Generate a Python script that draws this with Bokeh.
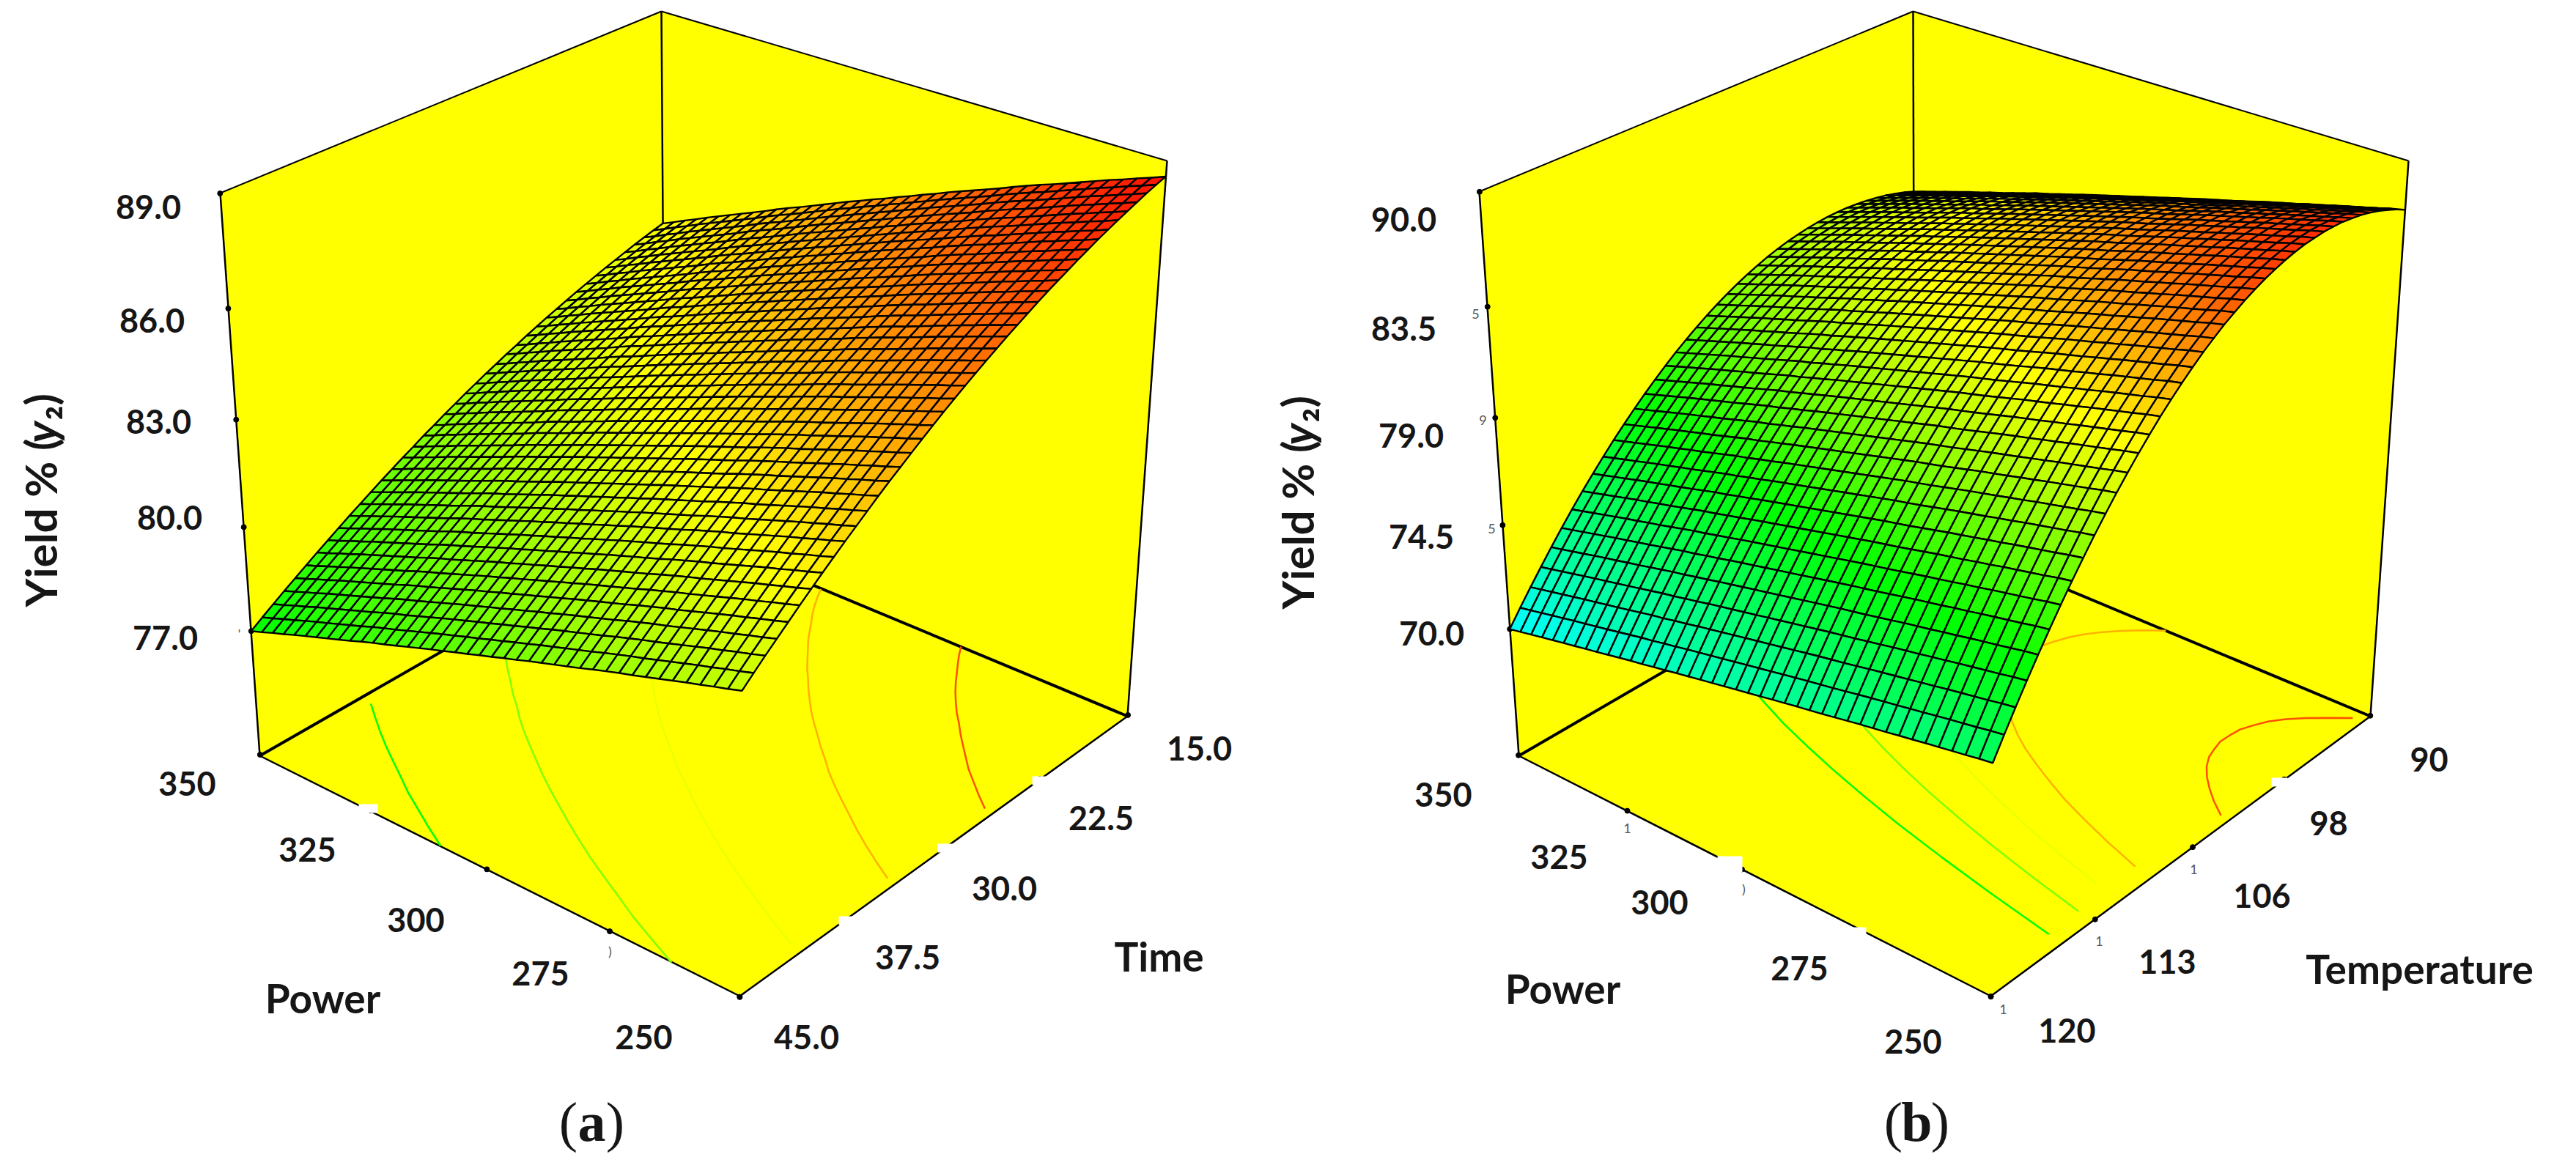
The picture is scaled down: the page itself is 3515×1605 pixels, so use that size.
import numpy as np
from bokeh.core.properties import value
from bokeh.embed import file_html
from bokeh.models import ColumnDataSource, LinearColorMapper
from bokeh.plotting import figure
from bokeh.resources import INLINE

# --- values ---
# each surface is kept as three edge profiles in yield units: the two edges running
# along time/temperature and the near edge running along power. inner mesh cells are
# combined from those, the mesh itself has too many cells to read one by one.
a_yield_power350 = [77.00, 77.22, 77.43, 77.64, 77.84, 78.04, 78.24, 78.43, 78.62, 78.81, 78.99, 79.17, 79.35, 79.52,
                    79.69, 79.85, 80.02, 80.17, 80.33, 80.48, 80.63, 80.77, 80.91, 81.04, 81.18, 81.30, 81.43, 81.55,
                    81.67, 81.78, 81.89, 82.00, 82.10, 82.20, 82.30, 82.39, 82.48, 82.57, 82.65, 82.73, 82.80]
a_yield_power250 = [81.60, 81.87, 82.13, 82.38, 82.63, 82.88, 83.12, 83.36, 83.59, 83.82, 84.04, 84.26, 84.48, 84.69,
                    84.89, 85.09, 85.29, 85.48, 85.67, 85.85, 86.03, 86.20, 86.37, 86.53, 86.69, 86.84, 86.99, 87.14,
                    87.28, 87.41, 87.54, 87.67, 87.79, 87.91, 88.02, 88.13, 88.23, 88.33, 88.43, 88.52, 88.60]
a_yield_time45 = [77.00, 77.12, 77.25, 77.37, 77.50, 77.62, 77.74, 77.86, 77.98, 78.10, 78.23, 78.35, 78.46, 78.58,
                  78.70, 78.82, 78.94, 79.05, 79.17, 79.28, 79.40, 79.51, 79.63, 79.74, 79.86, 79.97, 80.08, 80.19,
                  80.30, 80.42, 80.53, 80.64, 80.74, 80.85, 80.96, 81.07, 81.18, 81.28, 81.39, 81.49, 81.60]

b_yield_power350 = [70.00, 70.74, 71.45, 72.14, 72.81, 73.46, 74.08, 74.68, 75.25, 75.80, 76.33, 76.83, 77.31, 77.77,
                    78.20, 78.61, 79.00, 79.36, 79.70, 80.02, 80.31, 80.58, 80.83, 81.05, 81.25, 81.43, 81.58, 81.71,
                    81.81, 81.89, 81.95, 81.99, 82.00, 81.99, 81.95, 81.89, 81.81, 81.71, 81.58, 81.43, 81.25]
b_yield_power250 = [74.40, 75.31, 76.19, 77.04, 77.86, 78.65, 79.41, 80.14, 80.84, 81.52, 82.16, 82.78, 83.36, 83.92,
                    84.44, 84.95, 85.41, 85.85, 86.26, 86.65, 86.99, 87.32, 87.60, 87.87, 88.10, 88.31, 88.48, 88.63,
                    88.75, 88.84, 88.89, 88.93, 88.92, 88.90, 88.83, 88.75, 88.63, 88.48, 88.30, 88.10, 87.86]
b_yield_temp120 = [70.00, 70.12, 70.24, 70.36, 70.48, 70.60, 70.71, 70.83, 70.94, 71.06, 71.18, 71.30, 71.40, 71.52,
                   71.63, 71.75, 71.86, 71.97, 72.08, 72.19, 72.30, 72.41, 72.52, 72.63, 72.74, 72.85, 72.95, 73.05,
                   73.16, 73.27, 73.38, 73.48, 73.58, 73.69, 73.79, 73.90, 74.00, 74.10, 74.20, 74.31, 74.40]

a_contour_levels = [78.95, 81.05, 83.0, 85.0, 86.75]
b_contour_levels = [80.0, 82.0, 83.6, 85.2, 88.0]

power_ticks = [350, 325, 300, 275, 250]
time_ticks = [45.0, 37.5, 30.0, 22.5, 15.0]
temp_ticks = [120, 112.5, 105, 97.5, 90]
a_yield_ticks = [77, 80, 83, 86, 89]
b_yield_ticks = [70, 75, 80, 85, 90]

power_labels = ["350", "325", "300", "275", "250"]
time_labels = ["45.0", "37.5", "30.0", "22.5", "15.0"]
temp_labels = ["120", "113", "106", "98", "90"]
a_yield_labels = ["77.0", "80.0", "83.0", "86.0", "89.0"]
b_yield_labels = ["70.0", "74.5", "79.0", "83.5", "90.0"]

# --- layout, in pixels of the page ---
a_box = {(0, 0, 0): (362, 1039), (1, 0, 0): (1017, 1367), (1, 1, 0): (1546, 985), (0, 1, 0): (915, 722),
         (0, 0, 1): (308, 271), (1, 1, 1): (1600, 227), (0, 1, 1): (910, 23)}
b_box = {(0, 0, 0): (2080, 1039), (1, 0, 0): (2724, 1367), (1, 1, 0): (3242, 985), (0, 1, 0): (2620, 725),
         (0, 0, 1): (2026, 269), (1, 1, 1): (3294, 227), (0, 1, 1): (2618, 23)}

a_yield_xy = [(233, 878), (239, 714), (224, 583), (215, 445), (210, 290)]
a_power_xy = [(263, 1077), (427, 1167), (575, 1263), (745, 1336), (886, 1423)]
a_time_xy = [(1108, 1423), (1246, 1314), (1378, 1220), (1510, 1124), (1644, 1029)]
b_yield_xy = [(1961, 872), (1947, 740), (1933, 602), (1923, 456), (1923, 307)]
b_power_xy = [(1977, 1092), (2135, 1177), (2272, 1239), (2463, 1329), (2618, 1429)]
b_temp_xy = [(2828, 1414), (2965, 1320), (3094, 1230), (3185, 1131), (3322, 1044)]

contour_colors = ["#00ff00", "#80ff00", "#eaff00", "#ffb000", "#ff5000"]
FONT = "Lato"


def hex_to_rgb(h):
    return [int(h[i:i + 2], 16) for i in range(1, 6, 2)]


def linear_gradient(start_hex, finish_hex, n):
    s = hex_to_rgb(start_hex)
    f = hex_to_rgb(finish_hex)
    out = []
    for t in range(n):
        c = [int(s[k] + t / (n - 1) * (f[k] - s[k])) for k in range(3)]
        out.append("#%02x%02x%02x" % tuple(c))
    return out


def fit_camera(box):
    # perspective camera through the box corners
    rows, rhs = [], []
    for (u, v, w), (x, y) in box.items():
        rows.append([u, v, w, 1, 0, 0, 0, 0, -x * u, -x * v, -x * w])
        rhs.append(x)
        rows.append([0, 0, 0, 0, u, v, w, 1, -y * u, -y * v, -y * w])
        rhs.append(y)
    m = np.linalg.lstsq(np.array(rows, float), np.array(rhs, float), rcond=None)[0]
    return np.append(m, 1).reshape(3, 4)


def project(cam, u, v, w):
    u, v, w = np.asarray(u, float), np.asarray(v, float), np.asarray(w, float)
    d = cam[2, 0] * u + cam[2, 1] * v + cam[2, 2] * w + cam[2, 3]
    x = (cam[0, 0] * u + cam[0, 1] * v + cam[0, 2] * w + cam[0, 3]) / d
    y = (cam[1, 0] * u + cam[1, 1] * v + cam[1, 2] * w + cam[1, 3]) / d
    return x, y


p = figure(width=3499, height=1589, x_range=(8, 3507), y_range=(1597, 8), output_backend="svg",
           toolbar_location=None, min_border=0, outline_line_color=None, x_axis_location=None,
           y_axis_location=None)
p.grid.visible = False


def text(xy, labels, size, style="bold", font=FONT, color="#161616", angle=0.0, align="center"):
    p.text(x=[c[0] for c in xy], y=[c[1] for c in xy], text=labels, text_font=value(font), text_font_style=style,
           text_font_size=size, text_align=align, text_baseline="middle", text_color=color, angle=angle)


def draw_panel(box, left_edge, right_edge, near_edge, floor, top, mapper, levels,
               run_ticks, run_low, run_high, yield_ticks):
    cam = fit_camera(box)
    left_edge, right_edge, near_edge = map(np.array, (left_edge, right_edge, near_edge))
    n = len(near_edge) - 1
    m = len(left_edge) - 1

    share = (near_edge - near_edge[0]) / (near_edge[-1] - near_edge[0])
    z = left_edge[None, :] + share[:, None] * (right_edge - left_edge)[None, :]

    # walls and floor
    walls = [[(0, 0, 0), (0, 1, 0), (0, 1, 1), (0, 0, 1)],
             [(0, 1, 0), (1, 1, 0), (1, 1, 1), (0, 1, 1)],
             [(0, 0, 0), (1, 0, 0), (1, 1, 0), (0, 1, 0)]]
    xs = [[box[c][0] for c in wall] for wall in walls]
    ys = [[box[c][1] for c in wall] for wall in walls]
    p.patches(xs, ys, fill_color="#ffff00", line_color=None)

    for c0, c1, width in [((0, 0, 1), (0, 1, 1), 2), ((0, 1, 1), (1, 1, 1), 2), ((0, 0, 0), (0, 0, 1), 2.5),
                          ((1, 1, 0), (1, 1, 1), 2.5), ((0, 1, 0), (0, 1, 1), 2.5), ((0, 0, 0), (1, 0, 0), 2.5),
                          ((1, 0, 0), (1, 1, 0), 2.5), ((0, 0, 0), (0, 1, 0), 4), ((0, 1, 0), (1, 1, 0), 4)]:
        p.line([box[c0][0], box[c1][0]], [box[c0][1], box[c1][1]], line_color="black", line_width=width)

    # contours on the floor, power position found per row of the other factor
    for level, color in zip(levels, contour_colors):
        seg_x, seg_y = [], []
        for j in range(m + 1):
            col = z[:, j]
            if col[0] <= level <= col[-1]:
                uu = np.interp(level, col, np.arange(n + 1) / n)
                x, y = project(cam, uu, j / m, 0)
                seg_x.append(float(x))
                seg_y.append(float(y))
        p.line(seg_x, seg_y, line_color=color, line_width=2.5)

    # tick marks
    run_pos = [(run_low - t) / (run_low - run_high) for t in run_ticks]
    tx, ty = project(cam, [(350 - t) / 100 for t in power_ticks], [0] * 5, [0] * 5)
    p.scatter(tx, ty, marker="circle", size=7, color="black")
    tx, ty = project(cam, [1] * 5, run_pos, [0] * 5)
    p.scatter(tx, ty, marker="circle", size=7, color="black")
    wt = [(t - floor) / (top - floor) for t in yield_ticks]
    tx, ty = project(cam, [0] * 5, [0] * 5, wt)
    p.scatter(tx, ty, marker="circle", size=7, color="black")

    # mesh, drawn from the far corner to the near one
    cx, cy, cz = [], [], []
    for j in range(m - 1, -1, -1):
        for i in range(n):
            uu = [i / n, (i + 1) / n, (i + 1) / n, i / n]
            vv = [j / m, j / m, (j + 1) / m, (j + 1) / m]
            zz = [z[i, j], z[i + 1, j], z[i + 1, j + 1], z[i, j + 1]]
            x, y = project(cam, uu, vv, [(q - floor) / (top - floor) for q in zz])
            cx.append(x.tolist())
            cy.append(y.tolist())
            cz.append(float(np.mean(zz)))
    src = ColumnDataSource(data=dict(xs=cx, ys=cy, cell_yield=cz))
    p.patches("xs", "ys", source=src, fill_color={"field": "cell_yield", "transform": mapper},
              line_color="black", line_width=2.4)


a_mapper = LinearColorMapper(palette=linear_gradient("#00ff00", "#ffff00", 120) + linear_gradient("#ffff00", "#ff0000", 120),
                             low=77, high=89)
b_mapper = LinearColorMapper(palette=linear_gradient("#00ffff", "#00ff00", 75) + linear_gradient("#00ff00", "#ffff00", 65)
                             + linear_gradient("#ffff00", "#ff0000", 60), low=70, high=90)

draw_panel(a_box, a_yield_power350, a_yield_power250, a_yield_time45, 73.3, 89, a_mapper, a_contour_levels,
           time_ticks, 45.0, 15.0, a_yield_ticks)
draw_panel(b_box, b_yield_power350, b_yield_power250, b_yield_temp120, 63.7, 90, b_mapper, b_contour_levels,
           temp_ticks, 120, 90, b_yield_ticks)

# small white nicks along the floor edges
p.rect(x=[510, 1429, 1300, 1165, 2368, 2541, 3118], y=[1111, 1073, 1165, 1264, 1187, 1279, 1075],
       width=[26, 26, 26, 26, 34, 26, 22], height=[12, 12, 12, 12, 22, 12, 12], color="white", line_color=None)

text(a_yield_xy, a_yield_labels, "45px")
text(a_power_xy, power_labels, "45px")
text(a_time_xy, time_labels, "45px")
text(b_yield_xy, b_yield_labels, "45px")
text(b_power_xy, power_labels, "45px")
text(b_temp_xy, temp_labels, "45px")
text([(448, 1369), (2140, 1356)], ["Power", "Power"], "55px")
text([(1589, 1312), (3309, 1329)], ["Time", "Temperature"], "55px")

# z axis title in three runs so only the y is italic
for tx_, ty_ in [(62, 836), (1777, 839)]:
    text([(tx_, ty_)], ["Yield % ("], "60px", angle=np.pi / 2, align="left")
    text([(tx_, ty_ - 224)], ["y"], "60px", style="bold italic", angle=np.pi / 2, align="left")
    text([(tx_, ty_ - 255)], ["\u2082)"], "60px", angle=np.pi / 2, align="left")

# scan leftovers beside the axes
text([(334, 872), (840, 1305), (2021, 436), (2031, 581), (2043, 729), (2228, 1138), (2387, 1220), (3001, 1194),
      (2872, 1292), (2741, 1385)],
     ["'", ")", "5", "9", "5", "1", ")", "1", "1", "1"], "18px", style="normal", color="#555555")

for cx_, letter in [(815, "a"), (2623, "b")]:
    text([(cx_ - 32, 1538)], ["("], "76px", style="normal", font="Liberation Serif")
    text([(cx_, 1538)], [letter], "76px", font="Liberation Serif")
    text([(cx_ + 32, 1538)], [")"], "76px", style="normal", font="Liberation Serif")

open("out.html", "w").write(file_html(p, INLINE))
